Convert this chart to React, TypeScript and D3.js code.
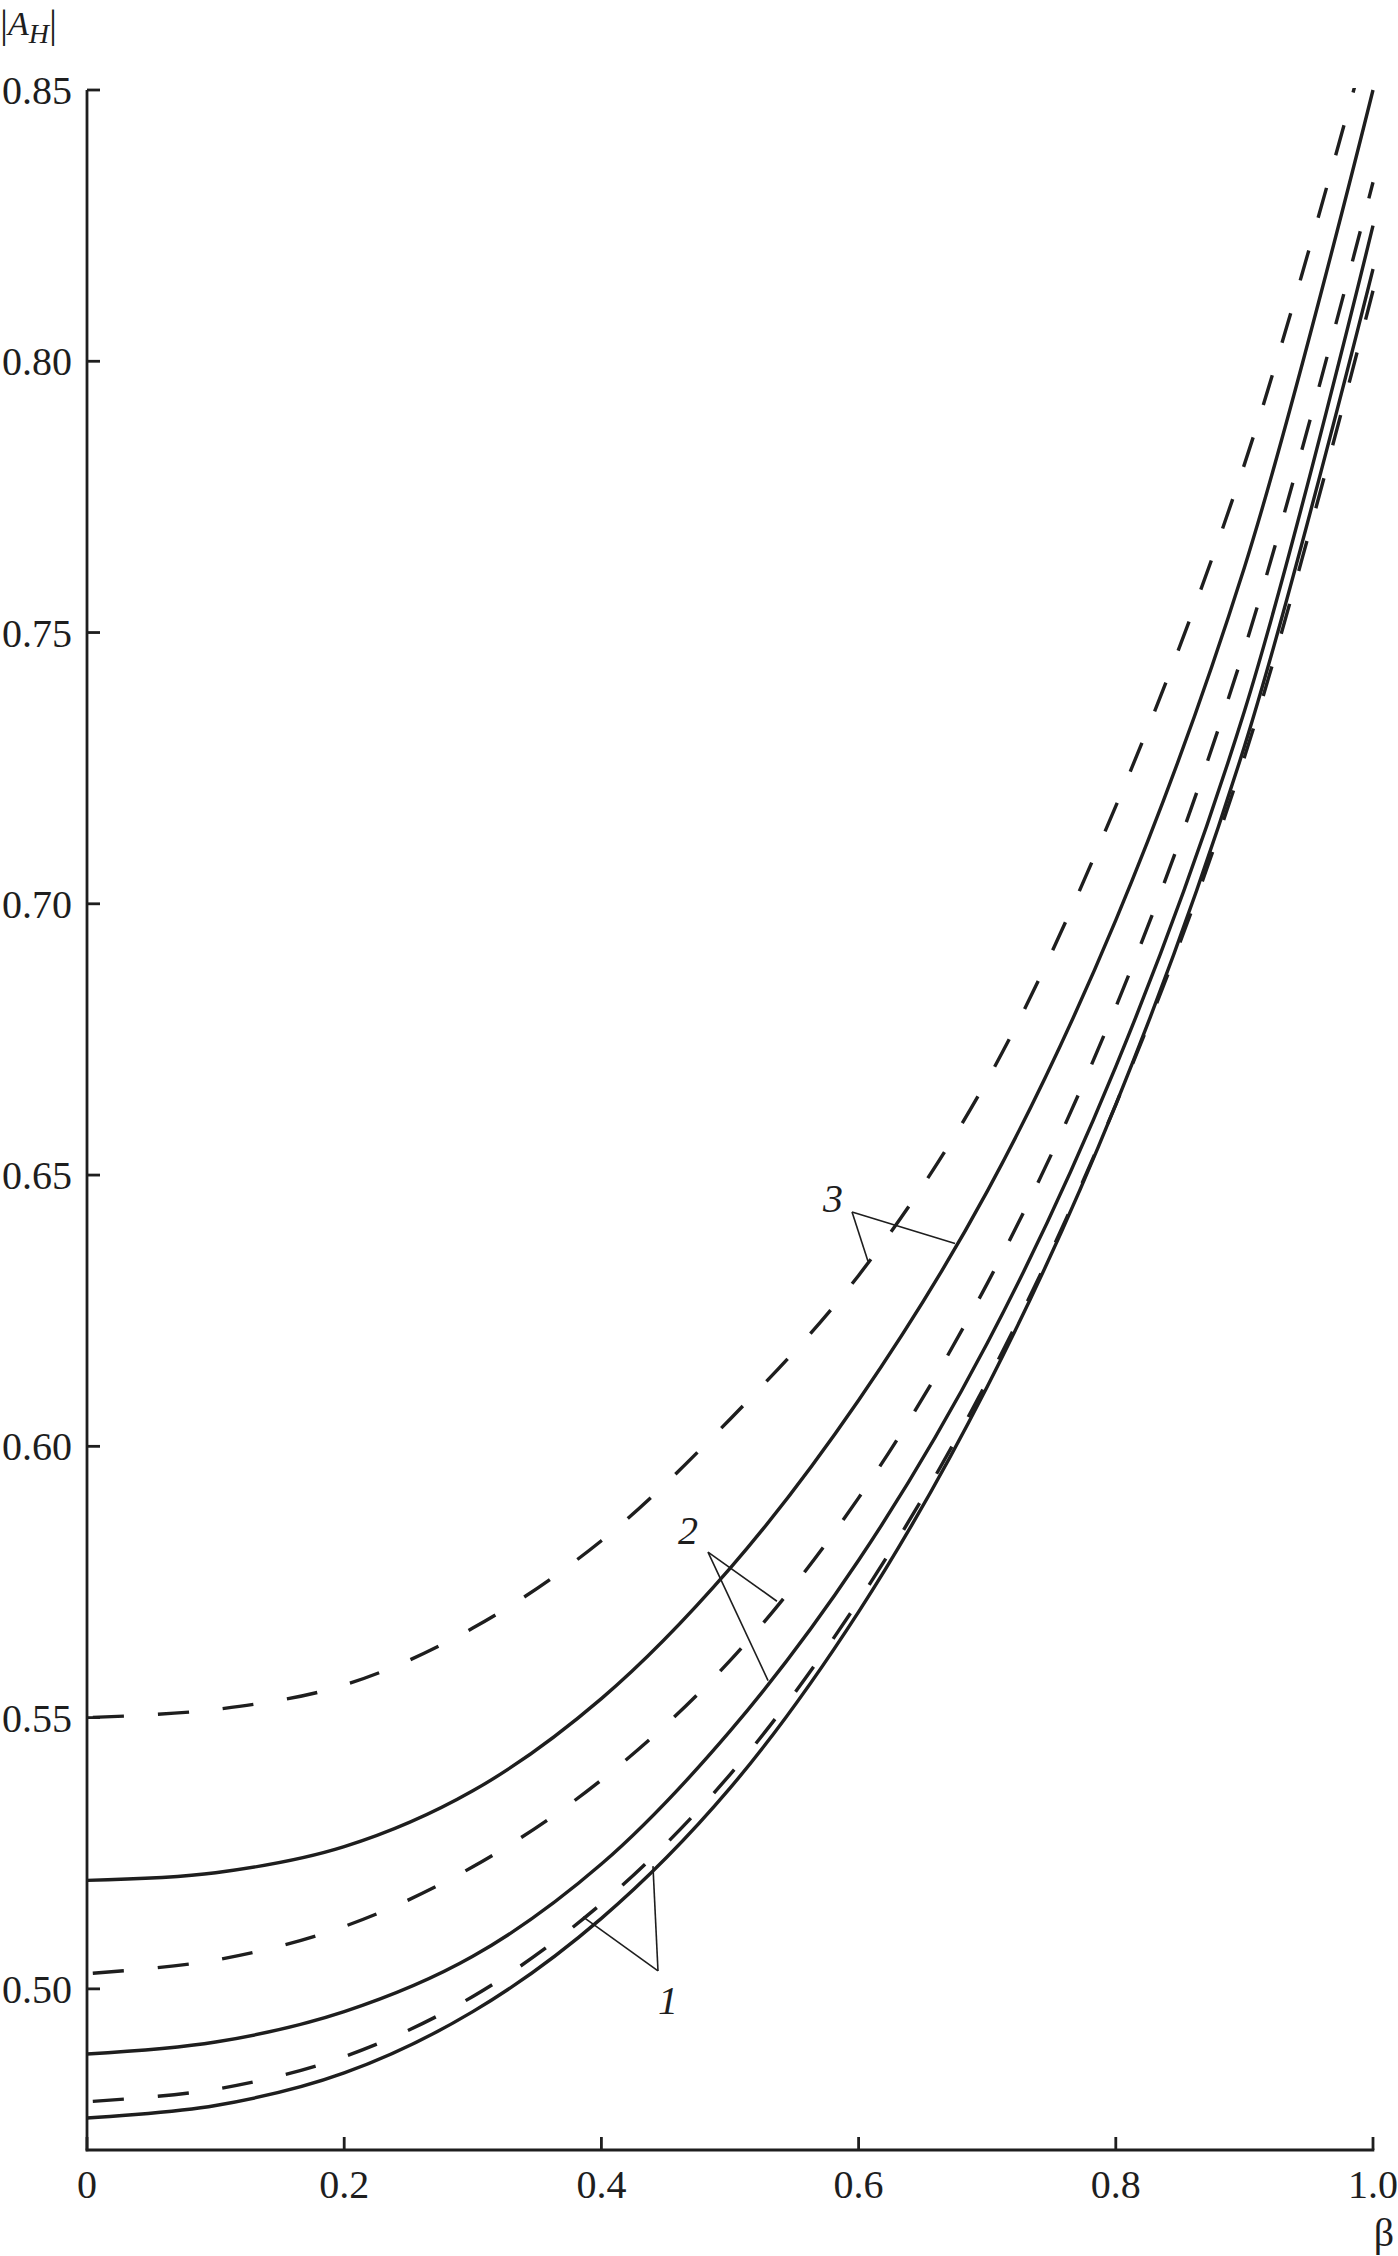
import React from 'react';
import * as d3 from 'd3';

const BETA = [0, 0.1, 0.2, 0.3, 0.4, 0.5, 0.6, 0.7, 0.8, 0.9, 1.0];
const SOLID_1 = [0.4762, 0.4785, 0.4845, 0.4958, 0.5130, 0.5370, 0.5695, 0.6110, 0.6630, 0.7290, 0.8170];
const DASHED_1 = [0.4792, 0.4815, 0.4875, 0.4986, 0.5157, 0.5395, 0.5715, 0.6120, 0.6630, 0.7270, 0.8130];
const SOLID_2 = [0.4880, 0.4902, 0.4958, 0.5060, 0.5230, 0.5475, 0.5790, 0.6190, 0.6700, 0.7355, 0.8250];
const DASHED_2 = [0.5028, 0.5053, 0.5115, 0.5225, 0.5385, 0.5605, 0.5905, 0.6300, 0.6810, 0.7470, 0.8330];
const SOLID_3 = [0.5200, 0.5214, 0.5262, 0.5365, 0.5535, 0.5775, 0.6085, 0.6470, 0.6970, 0.7620, 0.8500];
const DASHED_3 = [0.5500, 0.5515, 0.5560, 0.5665, 0.5826, 0.6050, 0.6315, 0.6675, 0.7180, 0.7810, 0.8630];

const Y_TICKS = [0.50, 0.55, 0.60, 0.65, 0.70, 0.75, 0.80, 0.85];
const X_TICKS = [0, 0.2, 0.4, 0.6, 0.8, 1.0];

// curve labels: label position, leader apex, and the beta where each leader meets its curve
const LABELS = [
  { text: '1', lb: 0.4518, lv: 0.4980, ab: 0.4440, av: 0.5033, targets: [{ s: DASHED_1, b: 0.3857 }, { s: SOLID_1, b: 0.4401 }] },
  { text: '2', lb: 0.4673, lv: 0.5846, ab: 0.4829, av: 0.5805, targets: [{ s: DASHED_2, b: 0.5365 }, { s: SOLID_2, b: 0.5296 }] },
  { text: '3', lb: 0.5801, lv: 0.6458, ab: 0.5949, av: 0.6432, targets: [{ s: DASHED_3, b: 0.6073 }, { s: SOLID_3, b: 0.6750 }] },
];

const FONT = '"Liberation Serif", "DejaVu Serif", serif';
const INK = '#1e1e1e';

export default function App() {
  const W = 1398;
  const H = 2256;
  const x = d3.scaleLinear().domain([0, 1]).range([87, 1373]);
  const y = d3.scaleLinear().domain([0.4703, 0.85]).range([2150, 90]);
  const line = d3
    .line<[number, number]>()
    .x((d) => x(d[0]))
    .y((d) => y(d[1]))
    .curve(d3.curveCatmullRom.alpha(0.5));

  const series = [
    { v: SOLID_1, dashed: false },
    { v: DASHED_1, dashed: true },
    { v: SOLID_2, dashed: false },
    { v: DASHED_2, dashed: true },
    { v: SOLID_3, dashed: false },
    { v: DASHED_3, dashed: true },
  ];

  const interp = (s: number[], b: number) => d3.scaleLinear().domain(BETA).range(s)(b);

  const x0 = x(0);
  const x1 = x(1);
  const yb = y(0.4703);
  const yt = y(0.85);

  return (
    <svg
      width={W}
      height={H}
      viewBox={`0 0 ${W} ${H}`}
      style={{ position: 'absolute', left: 0, top: 0, background: '#fff' }}
      fontFamily={FONT}
    >
      <rect x={0} y={0} width={W} height={H} fill="#fff" />
      <defs>
        <clipPath id="plot">
          <rect x={x0} y={yt - 2} width={x1 - x0 + 4} height={yb - yt + 2} />
        </clipPath>
      </defs>

      {/* curves */}
      <g clipPath="url(#plot)">
        {series.map((s, i) => (
          <path
            key={i}
            d={line(BETA.map((b, j) => [b, s.v[j]] as [number, number])) || ''}
            fill="none"
            stroke={INK}
            strokeWidth={3.4}
            strokeDasharray={s.dashed ? '31 34' : undefined}
            strokeDashoffset={s.dashed ? -6 : undefined}
          />
        ))}
      </g>

      {/* leader lines and curve numbers */}
      {LABELS.map((l, i) => (
        <g key={i}>
          {l.targets.map((t, k) => (
            <line
              key={k}
              x1={x(l.ab)}
              y1={y(l.av)}
              x2={x(t.b)}
              y2={y(interp(t.s, t.b))}
              stroke={INK}
              strokeWidth={1.6}
            />
          ))}
          <text
            x={x(l.lb)}
            y={y(l.lv)}
            dy="0.35em"
            textAnchor="middle"
            fontSize={40}
            fontStyle="italic"
            fill={INK}
          >
            {l.text}
          </text>
        </g>
      ))}

      {/* axes */}
      <line x1={x0} y1={yt} x2={x0} y2={yb + 1.3} stroke={INK} strokeWidth={2.8} />
      <line x1={x0 - 1.3} y1={yb} x2={x1 + 1.3} y2={yb} stroke={INK} strokeWidth={2.8} />
      {Y_TICKS.map((t) => (
        <g key={t}>
          <line x1={x0} y1={y(t)} x2={x0 + 13} y2={y(t)} stroke={INK} strokeWidth={2.8} />
          <text x={72} y={y(t)} dy="0.35em" textAnchor="end" fontSize={40} fill={INK}>
            {t.toFixed(2)}
          </text>
        </g>
      ))}
      {X_TICKS.map((t) => (
        <g key={t}>
          <line x1={x(t)} y1={yb} x2={x(t)} y2={yb - 13} stroke={INK} strokeWidth={2.8} />
          <text x={x(t)} y={2198} textAnchor="middle" fontSize={40} fill={INK}>
            {t === 0 ? '0' : t.toFixed(1)}
          </text>
        </g>
      ))}

      {/* axis titles */}
      <text x={1384} y={2246} textAnchor="middle" fontSize={40} fill={INK}>
        β
      </text>
      <text x={0} y={35} fontSize={34} fill={INK}>
        <tspan fontSize={40} dy={2}>|</tspan>
        <tspan fontStyle="italic" dy={-2}>A</tspan>
        <tspan fontStyle="italic" fontSize={28} dy={8}>H</tspan>
        <tspan fontSize={40} dy={-6}>|</tspan>
      </text>
    </svg>
  );
}
